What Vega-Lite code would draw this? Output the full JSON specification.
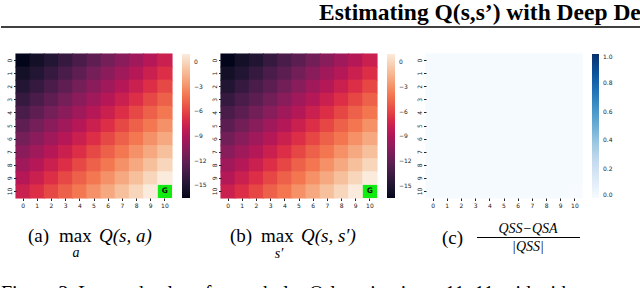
{
  "$schema": "https://vega.github.io/schema/vega-lite/v6.json",
  "padding": 0,
  "background": "white",
  "config": {
    "view": {"stroke": null},
    "axis": {"labelColor": "#222222", "tickColor": "#222222", "labelFont": "DejaVu Sans", "labelFontSize": 6, "tickSize": 2.5, "domain": false, "title": null, "labelPadding": 1.5},
    "legend": {"labelFont": "DejaVu Sans", "labelFontSize": 6, "labelColor": "#222222"}
  },
  "datasets": {
    "grid": [
      {"r":0,"c":0,"a":-16.56,"b":-16.5,"d":0.01},{"r":0,"c":1,"a":-15.72,"b":-15.7,"d":0.01},{"r":0,"c":2,"a":-14.87,"b":-14.9,"d":0.01},{"r":0,"c":3,"a":-14.01,"b":-14.0,"d":0.01},{"r":0,"c":4,"a":-13.14,"b":-13.1,"d":0.01},{"r":0,"c":5,"a":-12.26,"b":-12.3,"d":0.01},{"r":0,"c":6,"a":-11.37,"b":-11.4,"d":0.01},{"r":0,"c":7,"a":-10.48,"b":-10.5,"d":0.01},{"r":0,"c":8,"a":-9.57,"b":-9.6,"d":0.01},{"r":0,"c":9,"a":-8.66,"b":-8.7,"d":0.01},{"r":0,"c":10,"a":-7.73,"b":-7.7,"d":0.01},
      {"r":1,"c":0,"a":-15.72,"b":-15.7,"d":0.01},{"r":1,"c":1,"a":-14.87,"b":-14.9,"d":0.01},{"r":1,"c":2,"a":-14.01,"b":-14.0,"d":0.01},{"r":1,"c":3,"a":-13.14,"b":-13.1,"d":0.01},{"r":1,"c":4,"a":-12.26,"b":-12.3,"d":0.01},{"r":1,"c":5,"a":-11.37,"b":-11.4,"d":0.01},{"r":1,"c":6,"a":-10.48,"b":-10.5,"d":0.01},{"r":1,"c":7,"a":-9.57,"b":-9.6,"d":0.01},{"r":1,"c":8,"a":-8.66,"b":-8.7,"d":0.01},{"r":1,"c":9,"a":-7.73,"b":-7.7,"d":0.01},{"r":1,"c":10,"a":-6.8,"b":-6.8,"d":0.01},
      {"r":2,"c":0,"a":-14.87,"b":-14.9,"d":0.01},{"r":2,"c":1,"a":-14.01,"b":-14.0,"d":0.01},{"r":2,"c":2,"a":-13.14,"b":-13.1,"d":0.01},{"r":2,"c":3,"a":-12.26,"b":-12.3,"d":0.01},{"r":2,"c":4,"a":-11.37,"b":-11.4,"d":0.01},{"r":2,"c":5,"a":-10.48,"b":-10.5,"d":0.01},{"r":2,"c":6,"a":-9.57,"b":-9.6,"d":0.01},{"r":2,"c":7,"a":-8.66,"b":-8.7,"d":0.01},{"r":2,"c":8,"a":-7.73,"b":-7.7,"d":0.01},{"r":2,"c":9,"a":-6.8,"b":-6.8,"d":0.01},{"r":2,"c":10,"a":-5.86,"b":-5.9,"d":0.01},
      {"r":3,"c":0,"a":-14.01,"b":-14.0,"d":0.01},{"r":3,"c":1,"a":-13.14,"b":-13.1,"d":0.01},{"r":3,"c":2,"a":-12.26,"b":-12.3,"d":0.01},{"r":3,"c":3,"a":-11.37,"b":-11.4,"d":0.01},{"r":3,"c":4,"a":-10.48,"b":-10.5,"d":0.01},{"r":3,"c":5,"a":-9.57,"b":-9.6,"d":0.01},{"r":3,"c":6,"a":-8.66,"b":-8.7,"d":0.01},{"r":3,"c":7,"a":-7.73,"b":-7.7,"d":0.01},{"r":3,"c":8,"a":-6.8,"b":-6.8,"d":0.01},{"r":3,"c":9,"a":-5.86,"b":-5.9,"d":0.01},{"r":3,"c":10,"a":-4.91,"b":-4.9,"d":0.01},
      {"r":4,"c":0,"a":-13.14,"b":-13.1,"d":0.01},{"r":4,"c":1,"a":-12.26,"b":-12.3,"d":0.01},{"r":4,"c":2,"a":-11.37,"b":-11.4,"d":0.01},{"r":4,"c":3,"a":-10.48,"b":-10.5,"d":0.01},{"r":4,"c":4,"a":-9.57,"b":-9.6,"d":0.01},{"r":4,"c":5,"a":-8.66,"b":-8.7,"d":0.01},{"r":4,"c":6,"a":-7.73,"b":-7.7,"d":0.01},{"r":4,"c":7,"a":-6.8,"b":-6.8,"d":0.01},{"r":4,"c":8,"a":-5.86,"b":-5.9,"d":0.01},{"r":4,"c":9,"a":-4.91,"b":-4.9,"d":0.01},{"r":4,"c":10,"a":-3.95,"b":-4.0,"d":0.01},
      {"r":5,"c":0,"a":-12.26,"b":-12.3,"d":0.01},{"r":5,"c":1,"a":-11.37,"b":-11.4,"d":0.01},{"r":5,"c":2,"a":-10.48,"b":-10.5,"d":0.01},{"r":5,"c":3,"a":-9.57,"b":-9.6,"d":0.01},{"r":5,"c":4,"a":-8.66,"b":-8.7,"d":0.01},{"r":5,"c":5,"a":-7.73,"b":-7.7,"d":0.01},{"r":5,"c":6,"a":-6.8,"b":-6.8,"d":0.01},{"r":5,"c":7,"a":-5.86,"b":-5.9,"d":0.01},{"r":5,"c":8,"a":-4.91,"b":-4.9,"d":0.01},{"r":5,"c":9,"a":-3.95,"b":-4.0,"d":0.01},{"r":5,"c":10,"a":-2.98,"b":-3.0,"d":0.01},
      {"r":6,"c":0,"a":-11.37,"b":-11.4,"d":0.01},{"r":6,"c":1,"a":-10.48,"b":-10.5,"d":0.01},{"r":6,"c":2,"a":-9.57,"b":-9.6,"d":0.01},{"r":6,"c":3,"a":-8.66,"b":-8.7,"d":0.01},{"r":6,"c":4,"a":-7.73,"b":-7.7,"d":0.01},{"r":6,"c":5,"a":-6.8,"b":-6.8,"d":0.01},{"r":6,"c":6,"a":-5.86,"b":-5.9,"d":0.01},{"r":6,"c":7,"a":-4.91,"b":-4.9,"d":0.01},{"r":6,"c":8,"a":-3.95,"b":-4.0,"d":0.01},{"r":6,"c":9,"a":-2.98,"b":-3.0,"d":0.01},{"r":6,"c":10,"a":-2.0,"b":-2.0,"d":0.01},
      {"r":7,"c":0,"a":-10.48,"b":-10.5,"d":0.01},{"r":7,"c":1,"a":-9.57,"b":-9.6,"d":0.01},{"r":7,"c":2,"a":-8.66,"b":-8.7,"d":0.01},{"r":7,"c":3,"a":-7.73,"b":-7.7,"d":0.01},{"r":7,"c":4,"a":-6.8,"b":-6.8,"d":0.01},{"r":7,"c":5,"a":-5.86,"b":-5.9,"d":0.01},{"r":7,"c":6,"a":-4.91,"b":-4.9,"d":0.01},{"r":7,"c":7,"a":-3.95,"b":-4.0,"d":0.01},{"r":7,"c":8,"a":-2.98,"b":-3.0,"d":0.01},{"r":7,"c":9,"a":-2.0,"b":-2.0,"d":0.01},{"r":7,"c":10,"a":-1.01,"b":-1.0,"d":0.01},
      {"r":8,"c":0,"a":-9.57,"b":-9.6,"d":0.01},{"r":8,"c":1,"a":-8.66,"b":-8.7,"d":0.01},{"r":8,"c":2,"a":-7.73,"b":-7.7,"d":0.01},{"r":8,"c":3,"a":-6.8,"b":-6.8,"d":0.01},{"r":8,"c":4,"a":-5.86,"b":-5.9,"d":0.01},{"r":8,"c":5,"a":-4.91,"b":-4.9,"d":0.01},{"r":8,"c":6,"a":-3.95,"b":-4.0,"d":0.01},{"r":8,"c":7,"a":-2.98,"b":-3.0,"d":0.01},{"r":8,"c":8,"a":-2.0,"b":-2.0,"d":0.01},{"r":8,"c":9,"a":-1.01,"b":-1.0,"d":0.01},{"r":8,"c":10,"a":-0.01,"b":0.0,"d":0.01},
      {"r":9,"c":0,"a":-8.66,"b":-8.7,"d":0.01},{"r":9,"c":1,"a":-7.73,"b":-7.7,"d":0.01},{"r":9,"c":2,"a":-6.8,"b":-6.8,"d":0.01},{"r":9,"c":3,"a":-5.86,"b":-5.9,"d":0.01},{"r":9,"c":4,"a":-4.91,"b":-4.9,"d":0.01},{"r":9,"c":5,"a":-3.95,"b":-4.0,"d":0.01},{"r":9,"c":6,"a":-2.98,"b":-3.0,"d":0.01},{"r":9,"c":7,"a":-2.0,"b":-2.0,"d":0.01},{"r":9,"c":8,"a":-1.01,"b":-1.0,"d":0.01},{"r":9,"c":9,"a":-0.01,"b":0.0,"d":0.01},{"r":9,"c":10,"a":1.0,"b":1.0,"d":0.01},
      {"r":10,"c":0,"a":-7.73,"b":-7.7,"d":0.01},{"r":10,"c":1,"a":-6.8,"b":-6.8,"d":0.01},{"r":10,"c":2,"a":-5.86,"b":-5.9,"d":0.01},{"r":10,"c":3,"a":-4.91,"b":-4.9,"d":0.01},{"r":10,"c":4,"a":-3.95,"b":-4.0,"d":0.01},{"r":10,"c":5,"a":-2.98,"b":-3.0,"d":0.01},{"r":10,"c":6,"a":-2.0,"b":-2.0,"d":0.01},{"r":10,"c":7,"a":-1.01,"b":-1.0,"d":0.01},{"r":10,"c":8,"a":-0.01,"b":0.0,"d":0.01},{"r":10,"c":9,"a":1.0,"b":1.0,"d":0.01},{"r":10,"c":10,"a":1.0,"b":1.0,"d":0.0}
    ],
    "goal": [{"r":10,"c":10,"label":"G"}],
    "header": [{"text":"Estimating Q(s,s’) with Deep De"}],
    "notes": [{"figure":"Figure 3. Learned values from tabular Q-learning in an 11x11 grid with"}]
  },
  "spacing": 0,
  "vconcat": [
    {
      "width": 640, "height": 51,
      "data": {"name": "header"},
      "encoding": {
        "x": {"type": "quantitative", "scale": {"domain": [15, 655]}, "axis": null},
        "y": {"type": "quantitative", "scale": {"domain": [0, 51], "reverse": true}, "axis": null}
      },
      "layer": [
        {
          "mark": {"type": "text", "font": "Liberation Serif", "fontSize": 23.5, "fontWeight": "bold", "align": "left", "baseline": "alphabetic", "color": "black"},
          "encoding": {"x": {"datum": 318}, "y": {"datum": 17.5}, "text": {"field": "text"}}
        },
        {
          "mark": {"type": "rule", "strokeWidth": 1.6, "color": "black"},
          "encoding": {"x": {"datum": 0}, "x2": {"datum": 640}, "y": {"datum": 25}}
        }
      ]
    },
    {
      "spacing": 4,
      "data": {"name": "grid"},
      "hconcat": [
        {
          "width": 156, "height": 144,
          "layer": [
            {
              "mark": {"type": "rect", "width": {"band": 1.08}, "height": {"band": 1.08}},
              "encoding": {
                "x": {"field": "c", "type": "ordinal", "scale": {"domain": [0,1,2,3,4,5,6,7,8,9,10]}, "axis": {"labelAngle": 0}},
                "y": {"field": "r", "type": "ordinal", "scale": {"domain": [0,1,2,3,4,5,6,7,8,9,10]}, "axis": {"labelAngle": 270, "labelAlign": "center", "labelBaseline": "bottom", "minExtent": 15}},
                "color": {"field": "a", "type": "quantitative", "scale": {"domain": [-16.56, 1.0], "range": ["#03051a", "#35193e", "#701f57", "#ad1759", "#e13342", "#f37651", "#f6b48f", "#faebdd"]}, "legend": {"title": null, "gradientLength": 144, "gradientThickness": 8, "values": [0, -3, -6, -9, -12, -15], "offset": 10, "padding": 0, "labelOffset": 4}}
              }
            },
            {
              "data": {"name": "goal"},
              "mark": {"type": "rect", "color": "#10ec10"},
              "encoding": {"x": {"field": "c", "type": "ordinal"}, "y": {"field": "r", "type": "ordinal"}}
            },
            {
              "data": {"name": "goal"},
              "mark": {"type": "text", "fontSize": 7.5, "fontWeight": "bold", "font": "DejaVu Sans", "color": "#111111"},
              "encoding": {"x": {"field": "c", "type": "ordinal"}, "y": {"field": "r", "type": "ordinal"}, "text": {"field": "label"}}
            }
          ]
        },
        {
          "width": 156, "height": 144,
          "layer": [
            {
              "mark": {"type": "rect", "width": {"band": 1.08}, "height": {"band": 1.08}},
              "encoding": {
                "x": {"field": "c", "type": "ordinal", "scale": {"domain": [0,1,2,3,4,5,6,7,8,9,10]}, "axis": {"labelAngle": 0}},
                "y": {"field": "r", "type": "ordinal", "scale": {"domain": [0,1,2,3,4,5,6,7,8,9,10]}, "axis": {"labelAngle": 270, "labelAlign": "center", "labelBaseline": "bottom"}},
                "color": {"field": "b", "type": "quantitative", "scale": {"domain": [-16.5, 1.0], "range": ["#03051a", "#35193e", "#701f57", "#ad1759", "#e13342", "#f37651", "#f6b48f", "#faebdd"]}, "legend": {"title": null, "gradientLength": 144, "gradientThickness": 8, "values": [0, -3, -6, -9, -12, -15], "offset": 10, "padding": 0, "labelOffset": 4}}
              }
            },
            {
              "data": {"name": "goal"},
              "mark": {"type": "rect", "color": "#10ec10"},
              "encoding": {"x": {"field": "c", "type": "ordinal"}, "y": {"field": "r", "type": "ordinal"}}
            },
            {
              "data": {"name": "goal"},
              "mark": {"type": "text", "fontSize": 7.5, "fontWeight": "bold", "font": "DejaVu Sans", "color": "#111111"},
              "encoding": {"x": {"field": "c", "type": "ordinal"}, "y": {"field": "r", "type": "ordinal"}, "text": {"field": "label"}}
            }
          ]
        },
        {
          "width": 156, "height": 144,
          "mark": {"type": "rect", "width": {"band": 1.08}, "height": {"band": 1.08}},
          "encoding": {
            "x": {"field": "c", "type": "ordinal", "scale": {"domain": [0,1,2,3,4,5,6,7,8,9,10]}, "axis": {"labelAngle": 0}},
            "y": {"field": "r", "type": "ordinal", "scale": {"domain": [0,1,2,3,4,5,6,7,8,9,10]}, "axis": {"labelAngle": 270, "labelAlign": "center", "labelBaseline": "bottom", "maxExtent": 7}},
            "color": {"field": "d", "type": "quantitative", "scale": {"domain": [0, 1.0], "range": ["#f7fbff", "#deebf7", "#c6dbef", "#9ecae1", "#6baed6", "#4292c6", "#2171b5", "#08519c", "#08306b"]}, "legend": {"title": null, "gradientLength": 144, "gradientThickness": 7, "values": [0, 0.2, 0.4, 0.6, 0.8, 1.0], "format": ".1f", "offset": 10, "padding": 0, "labelOffset": 4}}
          }
        }
      ],
      "resolve": {"scale": {"color": "independent", "x": "independent", "y": "independent"}}
    },
    {
      "width": 640, "height": 81,
      "data": {"name": "notes"},
      "encoding": {
        "x": {"type": "quantitative", "scale": {"domain": [15, 655]}, "axis": null},
        "y": {"type": "quantitative", "scale": {"domain": [0, 81], "reverse": true}, "axis": null}
      },
      "layer": [
        {"mark": {"type": "text", "text": "(a)", "font": "Liberation Serif", "fontSize": 19, "align": "left", "baseline": "alphabetic"}, "encoding": {"x": {"datum": 27}, "y": {"datum": 34}}},
        {"mark": {"type": "text", "text": "max", "font": "Liberation Serif", "fontSize": 19, "align": "left", "baseline": "alphabetic"}, "encoding": {"x": {"datum": 58}, "y": {"datum": 34}}},
        {"mark": {"type": "text", "text": "a", "font": "Liberation Serif", "fontStyle": "italic", "fontSize": 14, "align": "center", "baseline": "alphabetic"}, "encoding": {"x": {"datum": 75}, "y": {"datum": 49}}},
        {"mark": {"type": "text", "text": "Q(s, a)", "font": "Liberation Serif", "fontStyle": "italic", "fontSize": 19, "align": "left", "baseline": "alphabetic"}, "encoding": {"x": {"datum": 98}, "y": {"datum": 34}}},
        {"mark": {"type": "text", "text": "(b)", "font": "Liberation Serif", "fontSize": 19, "align": "left", "baseline": "alphabetic"}, "encoding": {"x": {"datum": 229}, "y": {"datum": 34}}},
        {"mark": {"type": "text", "text": "max", "font": "Liberation Serif", "fontSize": 19, "align": "left", "baseline": "alphabetic"}, "encoding": {"x": {"datum": 260}, "y": {"datum": 34}}},
        {"mark": {"type": "text", "text": "s′", "font": "Liberation Serif", "fontStyle": "italic", "fontSize": 14, "align": "center", "baseline": "alphabetic"}, "encoding": {"x": {"datum": 278}, "y": {"datum": 50}}},
        {"mark": {"type": "text", "text": "Q(s, s′)", "font": "Liberation Serif", "fontStyle": "italic", "fontSize": 19, "align": "left", "baseline": "alphabetic"}, "encoding": {"x": {"datum": 300}, "y": {"datum": 34}}},
        {"mark": {"type": "text", "text": "(c)", "font": "Liberation Serif", "fontSize": 19, "align": "left", "baseline": "alphabetic"}, "encoding": {"x": {"datum": 441}, "y": {"datum": 36}}},
        {"mark": {"type": "text", "text": "QSS−QSA", "font": "Liberation Serif", "fontStyle": "italic", "fontSize": 14, "align": "center", "baseline": "alphabetic"}, "encoding": {"x": {"datum": 527}, "y": {"datum": 25}}},
        {"mark": {"type": "rule", "strokeWidth": 1, "color": "black"}, "encoding": {"x": {"datum": 476}, "x2": {"datum": 579}, "y": {"datum": 29.5}}},
        {"mark": {"type": "text", "text": "|QSS|", "font": "Liberation Serif", "fontStyle": "italic", "fontSize": 14, "align": "center", "baseline": "alphabetic"}, "encoding": {"x": {"datum": 527}, "y": {"datum": 43}}},
        {"mark": {"type": "text", "font": "Liberation Serif", "fontSize": 20, "align": "left", "baseline": "alphabetic"}, "encoding": {"x": {"datum": 0}, "y": {"datum": 92}, "text": {"field": "figure"}}}
      ]
    }
  ]
}
